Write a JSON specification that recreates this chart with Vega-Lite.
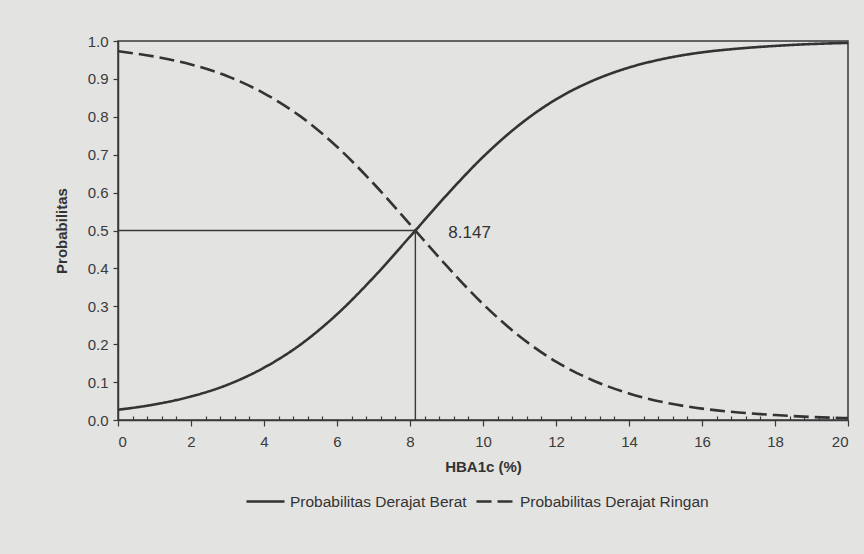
{
  "$schema": "https://vega.github.io/schema/vega-lite/v6.json",
  "autosize": "none",
  "width": 730,
  "height": 379,
  "padding": {"left": 118, "top": 41, "right": 16, "bottom": 134},
  "background": "#e3e3e1",
  "config": {
    "font": "Liberation Sans",
    "view": {"stroke": "#3a3a3a", "strokeWidth": 1.5},
    "axis": {"grid": false, "domainColor": "#3a3a3a", "domainWidth": 1.5, "tickColor": "#3a3a3a", "tickWidth": 1.2, "labelColor": "#3a3a3a", "titleColor": "#333", "labelFontSize": 15, "titleFontSize": 15, "titleFontWeight": "bold", "labelOverlap": false}
  },
  "datasets": {
    "curves": [
      {"x": 0, "p": 0.027, "series": "Probabilitas Derajat Berat"},
      {"x": 1, "p": 0.041, "series": "Probabilitas Derajat Berat"},
      {"x": 2, "p": 0.062, "series": "Probabilitas Derajat Berat"},
      {"x": 3, "p": 0.093, "series": "Probabilitas Derajat Berat"},
      {"x": 4, "p": 0.138, "series": "Probabilitas Derajat Berat"},
      {"x": 5, "p": 0.199, "series": "Probabilitas Derajat Berat"},
      {"x": 6, "p": 0.279, "series": "Probabilitas Derajat Berat"},
      {"x": 7, "p": 0.376, "series": "Probabilitas Derajat Berat"},
      {"x": 8, "p": 0.484, "series": "Probabilitas Derajat Berat"},
      {"x": 8.147, "p": 0.5, "series": "Probabilitas Derajat Berat"},
      {"x": 9, "p": 0.593, "series": "Probabilitas Derajat Berat"},
      {"x": 10, "p": 0.694, "series": "Probabilitas Derajat Berat"},
      {"x": 11, "p": 0.779, "series": "Probabilitas Derajat Berat"},
      {"x": 12, "p": 0.846, "series": "Probabilitas Derajat Berat"},
      {"x": 13, "p": 0.895, "series": "Probabilitas Derajat Berat"},
      {"x": 14, "p": 0.930, "series": "Probabilitas Derajat Berat"},
      {"x": 15, "p": 0.954, "series": "Probabilitas Derajat Berat"},
      {"x": 16, "p": 0.970, "series": "Probabilitas Derajat Berat"},
      {"x": 17, "p": 0.980, "series": "Probabilitas Derajat Berat"},
      {"x": 18, "p": 0.987, "series": "Probabilitas Derajat Berat"},
      {"x": 19, "p": 0.992, "series": "Probabilitas Derajat Berat"},
      {"x": 20, "p": 0.995, "series": "Probabilitas Derajat Berat"},
      {"x": 0, "p": 0.973, "series": "Probabilitas Derajat Ringan"},
      {"x": 1, "p": 0.959, "series": "Probabilitas Derajat Ringan"},
      {"x": 2, "p": 0.938, "series": "Probabilitas Derajat Ringan"},
      {"x": 3, "p": 0.907, "series": "Probabilitas Derajat Ringan"},
      {"x": 4, "p": 0.862, "series": "Probabilitas Derajat Ringan"},
      {"x": 5, "p": 0.801, "series": "Probabilitas Derajat Ringan"},
      {"x": 6, "p": 0.721, "series": "Probabilitas Derajat Ringan"},
      {"x": 7, "p": 0.624, "series": "Probabilitas Derajat Ringan"},
      {"x": 8, "p": 0.516, "series": "Probabilitas Derajat Ringan"},
      {"x": 8.147, "p": 0.5, "series": "Probabilitas Derajat Ringan"},
      {"x": 9, "p": 0.407, "series": "Probabilitas Derajat Ringan"},
      {"x": 10, "p": 0.306, "series": "Probabilitas Derajat Ringan"},
      {"x": 11, "p": 0.221, "series": "Probabilitas Derajat Ringan"},
      {"x": 12, "p": 0.154, "series": "Probabilitas Derajat Ringan"},
      {"x": 13, "p": 0.105, "series": "Probabilitas Derajat Ringan"},
      {"x": 14, "p": 0.070, "series": "Probabilitas Derajat Ringan"},
      {"x": 15, "p": 0.046, "series": "Probabilitas Derajat Ringan"},
      {"x": 16, "p": 0.030, "series": "Probabilitas Derajat Ringan"},
      {"x": 17, "p": 0.020, "series": "Probabilitas Derajat Ringan"},
      {"x": 18, "p": 0.013, "series": "Probabilitas Derajat Ringan"},
      {"x": 19, "p": 0.008, "series": "Probabilitas Derajat Ringan"},
      {"x": 20, "p": 0.005, "series": "Probabilitas Derajat Ringan"}
    ],
    "marker": [{"x": 8.147, "x0": 0, "y": 0.5, "y0": 0, "label": "8.147", "lx": 9.05}]
  },
  "resolve": {"axis": {"x": "independent"}},
  "layer": [
    {
      "data": {"name": "curves"},
      "mark": {"type": "line", "interpolate": "monotone", "strokeWidth": 2.6, "color": "#333333"},
      "encoding": {
        "x": {"field": "x", "type": "quantitative", "scale": {"domain": [0, 20], "nice": false},
          "axis": {"orient": "bottom", "values": [0, 2, 4, 6, 8, 10, 12, 14, 16, 18, 20], "tickSize": 6, "labelPadding": 8, "title": "HBA1c (%)", "titlePadding": 10}},
        "y": {"field": "p", "type": "quantitative", "scale": {"domain": [0, 1], "nice": false},
          "axis": {"values": [0, 0.1, 0.2, 0.3, 0.4, 0.5, 0.6, 0.7, 0.8, 0.9, 1.0], "format": ".1f", "tickSize": 5, "labelPadding": 5, "title": "Probabilitas", "titlePadding": 18}},
        "strokeDash": {"field": "series", "type": "nominal",
          "scale": {"domain": ["Probabilitas Derajat Berat", "Probabilitas Derajat Ringan"], "range": [[1, 0], [15, 6]]},
          "legend": {"title": null, "orient": "none", "legendX": 127, "legendY": 440, "direction": "horizontal", "symbolType": "stroke", "symbolSize": 1444, "symbolStrokeWidth": 2.4, "symbolStrokeColor": "#333", "labelFontSize": 15.5, "labelColor": "#333", "labelOffset": 4, "labelLimit": 400, "columnPadding": 4}}
      }
    },
    {
      "data": {"name": "marker"},
      "mark": {"type": "rule", "color": "#3a3a3a", "strokeWidth": 1.4},
      "encoding": {
        "x": {"field": "x0", "type": "quantitative", "axis": {"orient": "bottom", "values": [0.4, 0.8, 1.2, 1.6, 2.4, 2.8, 3.2, 3.6, 4.4, 4.8, 5.2, 5.6, 6.4, 6.8, 7.2, 7.6, 8.4, 8.8, 9.2, 9.6, 10.4, 10.8, 11.2, 11.6, 12.4, 12.8, 13.2, 13.6, 14.4, 14.8, 15.2, 15.6, 16.4, 16.8, 17.2, 17.6, 18.4, 18.8, 19.2, 19.6], "tickSize": -4, "labels": false, "domain": false, "title": null}},
        "x2": {"field": "x"},
        "y": {"field": "y", "type": "quantitative", "axis": {"values": [0, 0.1, 0.2, 0.3, 0.4, 0.5, 0.6, 0.7, 0.8, 0.9, 1.0], "format": ".1f", "tickSize": 5, "labelPadding": 5, "title": "Probabilitas", "titlePadding": 18}}
      }
    },
    {
      "data": {"name": "marker"},
      "mark": {"type": "rule", "color": "#3a3a3a", "strokeWidth": 1.4},
      "encoding": {
        "x": {"field": "x", "type": "quantitative", "axis": null},
        "y": {"field": "y0", "type": "quantitative", "axis": {"values": [0, 0.1, 0.2, 0.3, 0.4, 0.5, 0.6, 0.7, 0.8, 0.9, 1.0], "format": ".1f", "tickSize": 5, "labelPadding": 5, "title": "Probabilitas", "titlePadding": 18}},
        "y2": {"field": "y"}
      }
    },
    {
      "data": {"name": "marker"},
      "mark": {"type": "text", "align": "left", "baseline": "middle", "fontSize": 17, "color": "#333", "dy": 2},
      "encoding": {
        "x": {"field": "lx", "type": "quantitative", "axis": null},
        "y": {"field": "y", "type": "quantitative", "axis": {"values": [0, 0.1, 0.2, 0.3, 0.4, 0.5, 0.6, 0.7, 0.8, 0.9, 1.0], "format": ".1f", "tickSize": 5, "labelPadding": 5, "title": "Probabilitas", "titlePadding": 18}},
        "text": {"field": "label"}
      }
    }
  ]
}
